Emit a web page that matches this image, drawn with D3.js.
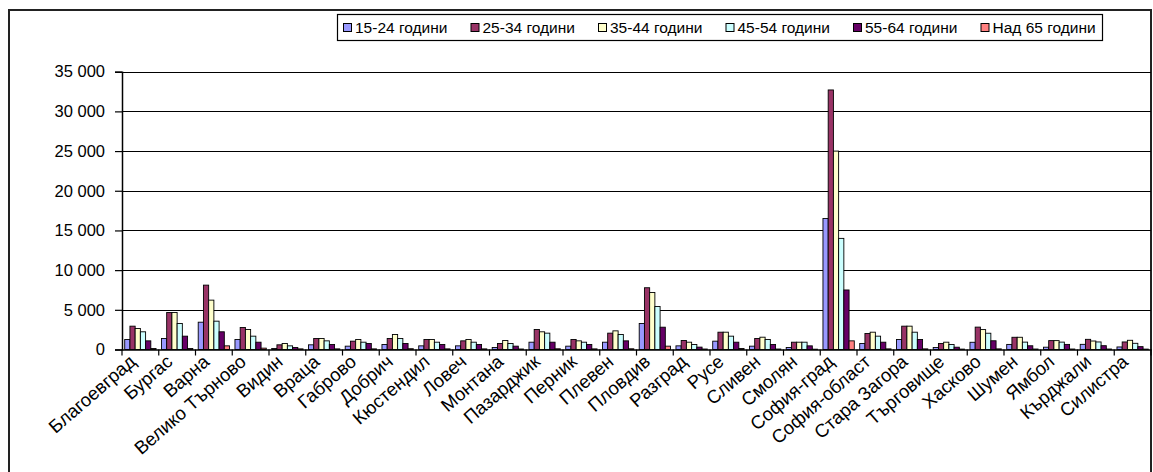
<!DOCTYPE html>
<html>
<head>
<meta charset="utf-8">
<script src="https://cdn.jsdelivr.net/npm/d3@7"></script>
<style>
  html, body { margin: 0; padding: 0; background: #fff; }
  svg { display: block; font-family: "Liberation Sans", Arial, sans-serif; }
</style>
</head>
<body>
<svg id="chart" width="1153" height="472"></svg>
<script>
// Regions (области)
const categories = ["Благоевград", "Бургас", "Варна", "Велико Търново", "Видин", "Враца", "Габрово",
  "Добрич", "Кюстендил", "Ловеч", "Монтана", "Пазарджик", "Перник", "Плевен", "Пловдив", "Разград",
  "Русе", "Сливен", "Смолян", "София-град", "София-област", "Стара Загора", "Търговище", "Хасково",
  "Шумен", "Ямбол", "Кърджали", "Силистра"];

// Age groups
const seriesNames = ["15-24 години", "25-34 години", "35-44 години", "45-54 години", "55-64 години", "Над 65 години"];
const seriesColors = ["#9999FF", "#993366", "#FFFFCC", "#CCFFFF", "#660066", "#FF8080"];

// Values per age group, in region order
const age15_24 = [1260, 1390, 3440, 1260, 130, 590, 420, 630, 460, 460, 250, 920, 420, 920, 3280, 460,
  1050, 420, 250, 16500, 760, 1260, 250, 910, 640, 290, 650, 320];
const age25_34 = [2940, 4660, 8110, 2770, 590, 1390, 1050, 1390, 1260, 1090, 760, 2520, 1260, 2060, 7780, 1130,
  2180, 1390, 920, 32700, 2020, 2940, 760, 2820, 1540, 1120, 1280, 950];
const age35_44 = [2650, 4660, 6220, 2520, 760, 1390, 1260, 1890, 1260, 1260, 1130, 2230, 1090, 2350, 7180, 920,
  2180, 1550, 920, 25000, 2180, 2940, 920, 2510, 1540, 1120, 1070, 1160];
const age45_54 = [2230, 3280, 3570, 1680, 460, 1090, 920, 1390, 920, 920, 760, 2060, 920, 1890, 5420, 630,
  1680, 1260, 920, 14000, 1680, 2180, 630, 2050, 930, 930, 950, 780];
const age55_64 = [1090, 1680, 2230, 920, 250, 630, 760, 760, 630, 630, 420, 920, 630, 1090, 2810, 300,
  920, 630, 460, 7500, 920, 1260, 290, 1100, 470, 640, 480, 360];
const age65plus = [130, 130, 460, 170, 80, 80, 80, 100, 80, 80, 60, 90, 80, 90, 420, 60,
  130, 60, 40, 1090, 80, 80, 50, 80, 60, 60, 60, 50];

const yTicks = [0, 5000, 10000, 15000, 20000, 25000, 30000, 35000];

const seriesValues = [age15_24, age25_34, age35_44, age45_54, age55_64, age65plus];

const svg = d3.select("#chart");
const font = "Liberation Sans, Arial, sans-serif";

// outer chart frame
svg.append("rect")
  .attr("x", 9).attr("y", 10).attr("width", 1142).attr("height", 475)
  .attr("fill", "#fff").attr("stroke", "#222").attr("stroke-width", 2);

const plot = { left: 122, right: 1151, top: 71.7, bottom: 349.5 };

const y = d3.scaleLinear().domain([0, 35000]).range([plot.bottom, plot.top]);
const x0 = d3.scaleBand().domain(categories).range([plot.left, plot.right]).padding(0);
const x1 = d3.scaleBand().domain(seriesNames).range([0, x0.bandwidth()]).paddingInner(0).paddingOuter(0.52);

// horizontal gridlines
svg.append("g")
  .selectAll("line")
  .data(yTicks.filter(d => d > 0))
  .join("line")
  .attr("x1", plot.left).attr("x2", plot.right)
  .attr("y1", d => Math.round(y(d)) + 0.5).attr("y2", d => Math.round(y(d)) + 0.5)
  .attr("stroke", "#000").attr("stroke-width", 1);

// bars
const groups = svg.append("g")
  .selectAll("g")
  .data(categories)
  .join("g")
  .attr("transform", c => `translate(${x0(c)},0)`);

groups.selectAll("rect")
  .data((c, i) => seriesNames.map((s, j) => ({ s, j, v: seriesValues[j][i] })))
  .join("rect")
  .attr("x", d => x1(d.s))
  .attr("width", x1.bandwidth())
  .attr("y", d => y(d.v))
  .attr("height", d => y(0) - y(d.v))
  .attr("fill", d => seriesColors[d.j])
  .attr("stroke", "#000")
  .attr("stroke-width", 0.9);

// value axis
const yAxis = d3.axisLeft(y)
  .tickValues(yTicks)
  .tickSize(7)
  .tickPadding(10)
  .tickFormat(d => d3.format(",")(d).replace(/,/g, " "));

const gy = svg.append("g")
  .attr("transform", `translate(${plot.left},0)`)
  .call(yAxis);
gy.select(".domain").attr("stroke", "#000").attr("stroke-width", 1.5);
gy.selectAll(".tick line").attr("stroke", "#000").attr("stroke-width", 1.2);
gy.selectAll(".tick text")
  .attr("font-family", font).attr("font-size", 16.5).attr("fill", "#000");

// category axis: baseline, boundary ticks and rotated labels
const xAxis = d3.axisBottom(x0).tickSize(0).tickPadding(0);
const gx = svg.append("g")
  .attr("transform", `translate(0,${plot.bottom})`)
  .call(xAxis);
gx.select(".domain").attr("stroke", "#000").attr("stroke-width", 1.5);
gx.selectAll(".tick text")
  .attr("font-family", font).attr("font-size", 18.5).attr("fill", "#000")
  .attr("text-anchor", "end")
  .attr("dy", "0.71em")
  .attr("y", 0)
  .attr("transform", "translate(-12,4) rotate(-41)");

const bounds = categories.map(c => x0(c)).concat([plot.right]);
svg.append("g")
  .selectAll("line")
  .data(bounds)
  .join("line")
  .attr("x1", d => d).attr("x2", d => d)
  .attr("y1", plot.bottom).attr("y2", plot.bottom + 6)
  .attr("stroke", "#000").attr("stroke-width", 1.2);

// legend
const legend = svg.append("g");
legend.append("rect")
  .attr("x", 337.5).attr("y", 14.5).attr("width", 765).attr("height", 26)
  .attr("fill", "#fff").attr("stroke", "#000").attr("stroke-width", 1.2);

const items = legend.selectAll("g.item")
  .data(seriesNames)
  .join("g")
  .attr("class", "item")
  .attr("transform", (d, i) => `translate(${343 + i * 127.5},0)`);
items.append("rect")
  .attr("x", 0.5).attr("y", 23.5).attr("width", 8).attr("height", 8)
  .attr("fill", (d, i) => seriesColors[i])
  .attr("stroke", "#000").attr("stroke-width", 1);
items.append("text")
  .attr("x", 12).attr("y", 33)
  .attr("font-family", font).attr("font-size", 15.5).attr("fill", "#000")
  .text(d => d);
</script>
</body>
</html>
